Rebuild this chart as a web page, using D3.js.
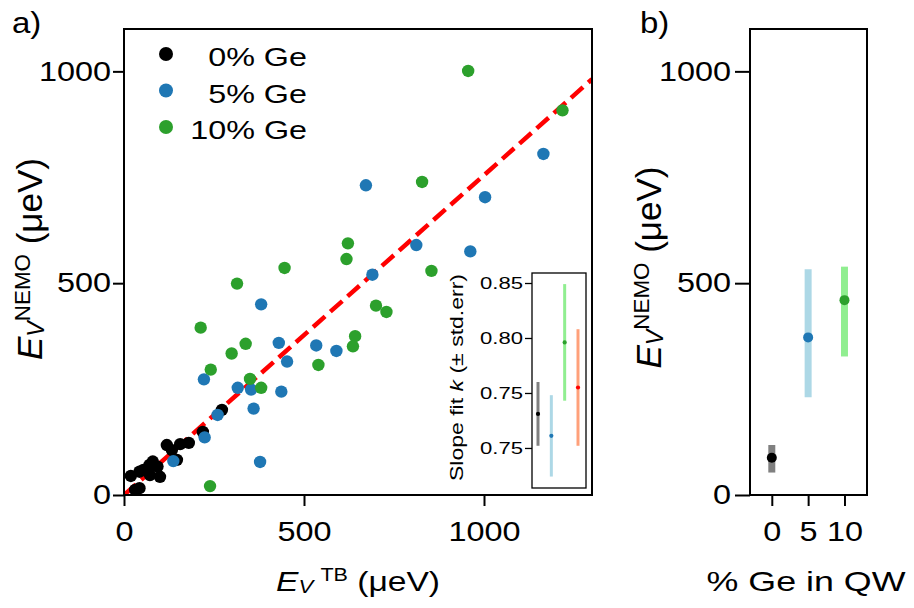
<!DOCTYPE html>
<html>
<head>
<meta charset="utf-8">
<script src="https://cdn.jsdelivr.net/npm/d3@7"></script>
<style>
  body { margin: 0; background: #fff; }
  svg { display: block; font-family: "Liberation Sans", Arial, Helvetica, sans-serif; }
</style>
</head>
<body>
<svg id="chart" width="914" height="608"></svg>
<script>
// ---- data -------------------------------------------------------------
// valley splitting from tight binding (x) vs NEMO (y), in µeV
const tb0    = [31, 43, 19, 43, 54, 71, 80, 93, 72, 100, 119, 133, 156, 180, 147, 219, 272];
const nemo0  = [12, 16, 45, 55, 59, 71, 79, 67, 47, 43, 118, 106, 120, 123, 83, 149, 201];

const tb5    = [1165, 1003, 962, 672, 812, 690, 381, 430, 534, 590, 453, 222, 316, 353, 437, 360, 260, 224, 378, 137];
const nemo5  = [805, 703, 575, 731, 590, 520, 450, 359, 353, 340, 315, 273, 253, 249, 244, 204, 189, 136, 78, 80];

const tb10   = [956, 1218, 828, 854, 622, 618, 446, 314, 700, 729, 213, 642, 338, 636, 299, 540, 241, 350, 381, 239];
const nemo10 = [1001, 908, 739, 529, 594, 557, 536, 499, 447, 432, 395, 375, 357, 351, 334, 307, 296, 274, 253, 21];

const legendLabels = ["0% Ge", "5% Ge", "10% Ge"];
const fitSlope = 0.755;            // slope of the dashed fit line
const mainXTicks = [0, 500, 1000];
const mainYTicks = [0, 500, 1000];

// inset: fitted slope per group (0%, 5%, 10%, all) with std. error
const insetSlope = [0.731, 0.711, 0.796, 0.755];
const insetErr   = [0.029, 0.037, 0.053, 0.053];
const insetTickValues = [0.70, 0.75, 0.80, 0.85];
const insetTickLabels = ["0.75", "0.75", "0.80", "0.85"];

// panel b: mean NEMO splitting per Ge content with spread
const geContent = [0, 5, 10];
const meanNemo  = [88, 372, 460];
const lowNemo   = [53, 231, 327];
const highNemo  = [118, 533, 539];
const geTicks   = [0, 5, 10];

// ---- styling ----------------------------------------------------------
const dotColors  = ["#000000", "#1f77b4", "#2ca02c"];
const barColors  = ["#808080", "#add8e6", "#90ee90"];
const insetDot   = ["#000000", "#1f77b4", "#2ca02c", "#ff0000"];
const insetBar   = ["#808080", "#add8e6", "#90ee90", "#ffa07a"];

const svg = d3.select("#chart");

// wide-set text: scale horizontally in the text's own direction
function stretchTicks(g, k) {
  g.selectAll(".tick text").each(function () {
    const t = d3.select(this);
    const x = +t.attr("x") || 0;
    t.attr("x", x / k).attr("transform", `scale(${k},1)`);
  });
}
function styleAxis(g, fontSize, width) {
  g.select(".domain").remove();
  g.selectAll(".tick line").attr("stroke", "#000").attr("stroke-width", width);
  g.selectAll(".tick text").attr("fill", "#000").attr("font-size", fontSize)
    .attr("font-family", '"Liberation Sans", Arial, sans-serif');
}
function plainText(parent, x, y, rot, size, sx, str, anchor) {
  return parent.append("text")
    .attr("transform", `translate(${x},${y}) rotate(${rot}) scale(${sx},1)`)
    .attr("text-anchor", anchor || "middle")
    .attr("font-size", size)
    .text(str);
}
// E with italic subscript, upright superscript, then unit
function mathLabel(parent, x, y, rot, size, sx, sub, sup, tail, gap) {
  const t = parent.append("text")
    .attr("transform", `translate(${x},${y}) rotate(${rot}) scale(${sx},1)`)
    .attr("text-anchor", "middle")
    .attr("font-size", size);
  t.append("tspan").attr("font-style", "italic").text("E");
  t.append("tspan").attr("font-style", "italic").attr("font-size", size * 0.66)
    .attr("dy", size * 0.07).text(sub);
  t.append("tspan").attr("font-size", size * 0.64).attr("dx", gap)
    .attr("dy", -size * 0.42).text(sup);
  t.append("tspan").attr("dy", size * 0.35).text(tail);
  return t;
}

// ---- panel a ----------------------------------------------------------
const x = d3.scaleLinear().domain([0, 1300]).range([124, 592]);
const y = d3.scaleLinear().domain([0, 1100]).range([495, 29]);

const gA = svg.append("g");
gA.append("clipPath").attr("id", "clipA").append("rect")
  .attr("x", 124).attr("y", 29).attr("width", 468).attr("height", 466);

// dashed linear fit through the origin
gA.append("line")
  .attr("clip-path", "url(#clipA)")
  .attr("x1", x(0)).attr("y1", y(0))
  .attr("x2", x(1300)).attr("y2", y(fitSlope * 1300))
  .attr("stroke", "#ff0000").attr("stroke-width", 4.5)
  .attr("stroke-dasharray", "16,7");

const groups = [[tb0, nemo0], [tb5, nemo5], [tb10, nemo10]];
groups.forEach(([xs, ys], gi) => {
  gA.append("g").attr("clip-path", "url(#clipA)")
    .selectAll("circle").data(xs).join("circle")
    .attr("cx", d => x(d))
    .attr("cy", (d, i) => y(ys[i]))
    .attr("r", 6.2)
    .attr("fill", dotColors[gi]);
});

gA.append("rect").attr("x", 124).attr("y", 29).attr("width", 468).attr("height", 466)
  .attr("fill", "none").attr("stroke", "#000").attr("stroke-width", 2);

const axAY = gA.append("g").attr("transform", "translate(124,0)")
  .call(d3.axisLeft(y).tickValues(mainYTicks).tickSize(11).tickPadding(2).tickFormat(d3.format("d")));
styleAxis(axAY, 27, 2); stretchTicks(axAY, 1.2);

const axAX = gA.append("g").attr("transform", "translate(0,495)")
  .call(d3.axisBottom(x).tickValues(mainXTicks).tickSize(11).tickPadding(16).tickFormat(d3.format("d")));
styleAxis(axAX, 27, 2); stretchTicks(axAX, 1.2);

// legend
legendLabels.forEach((lab, i) => {
  const ly = 54 + i * 36.5;
  gA.append("circle").attr("cx", 166).attr("cy", ly).attr("r", 7).attr("fill", dotColors[i]);
  plainText(gA, 307, ly + 12.4, 0, 26.5, 1.22, lab, "end");
});

mathLabel(gA, 358, 591, 0, 28, 1.2, "V", "TB", " (μeV)", 6);
mathLabel(gA, 42, 259, -90, 35, 1, "V", "NEMO", " (μeV)", 0);
plainText(gA, 12, 33, 0, 30, 1.1, "a)", "start");

// ---- inset: fitted slopes ---------------------------------------------
const xi = d3.scaleLinear().domain([-0.45, 3.6]).range([532, 586]);
const yi = d3.scaleLinear().domain([0.6636, 0.8591]).range([488, 273]);
const gI = svg.append("g");
gI.append("rect").attr("x", 532).attr("y", 273).attr("width", 54).attr("height", 215)
  .attr("fill", "#fff").attr("stroke", "#000").attr("stroke-width", 1.3);

insetSlope.forEach((k, i) => {
  gI.append("line")
    .attr("x1", xi(i)).attr("x2", xi(i))
    .attr("y1", yi(k - insetErr[i])).attr("y2", yi(k + insetErr[i]))
    .attr("stroke", insetBar[i]).attr("stroke-width", 3);
  gI.append("circle").attr("cx", xi(i)).attr("cy", yi(k)).attr("r", 2.1).attr("fill", insetDot[i]);
});

const axIY = gI.append("g").attr("transform", "translate(532,0)")
  .call(d3.axisLeft(yi).tickValues(insetTickValues).tickSize(7).tickPadding(2)
    .tickFormat((d, i) => insetTickLabels[i]));
styleAxis(axIY, 17, 1.3); stretchTicks(axIY, 1.3);

const insetLab = gI.append("text")
  .attr("transform", "translate(463,377.5) rotate(-90) scale(1.28,1)")
  .attr("text-anchor", "middle").attr("font-size", 18);
insetLab.append("tspan").text("Slope fit ");
insetLab.append("tspan").attr("font-style", "italic").text("k");
insetLab.append("tspan").text(" (± std.err)");

// ---- panel b ----------------------------------------------------------
const xb = d3.scaleLinear().domain([-3, 13.1]).range([750, 867]);
const gB = svg.append("g");

geContent.forEach((g, i) => {
  gB.append("line")
    .attr("x1", xb(g)).attr("x2", xb(g))
    .attr("y1", y(lowNemo[i])).attr("y2", y(highNemo[i]))
    .attr("stroke", barColors[i]).attr("stroke-width", 7);
  gB.append("circle").attr("cx", xb(g)).attr("cy", y(meanNemo[i])).attr("r", 5)
    .attr("fill", dotColors[i]);
});

gB.append("rect").attr("x", 750).attr("y", 29).attr("width", 117).attr("height", 466)
  .attr("fill", "none").attr("stroke", "#000").attr("stroke-width", 2);

const axBY = gB.append("g").attr("transform", "translate(750,0)")
  .call(d3.axisLeft(y).tickValues(mainYTicks).tickSize(15).tickPadding(4).tickFormat(d3.format("d")));
styleAxis(axBY, 27, 2); stretchTicks(axBY, 1.2);

const axBX = gB.append("g").attr("transform", "translate(0,495)")
  .call(d3.axisBottom(xb).tickValues(geTicks).tickSize(11).tickPadding(16).tickFormat(d3.format("d")));
styleAxis(axBX, 27, 2); stretchTicks(axBX, 1.2);

plainText(gB, 806, 591, 0, 28, 1.28, "% Ge in QW", "middle");
mathLabel(gB, 661, 267.5, -90, 35, 1, "V", "NEMO", " (μeV)", 0);
plainText(gB, 640, 33, 0, 30, 1.1, "b)", "start");
</script>
</body>
</html>
